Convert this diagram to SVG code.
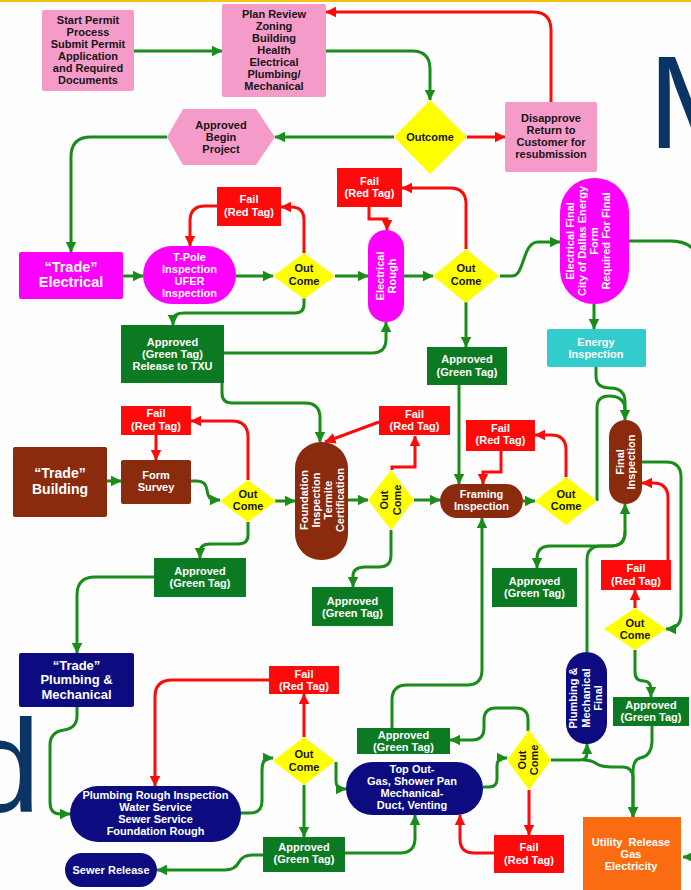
<svg xmlns="http://www.w3.org/2000/svg" width="691" height="890" viewBox="0 0 691 890">
<style>
  .t { font-family: "Liberation Sans", Arial, sans-serif; font-weight: bold; font-size: 11px; text-anchor: middle; }
  .big { font-size: 14.5px; }
  .dk { fill: #151515; }
  .wh { fill: #ffffff; }
  .pink { fill: #f59bc9; }
  .yel { fill: #ffff00; }
  .red { fill: #ff0a0a; }
  .grn { fill: #0c7a22; }
  .mag { fill: #ff00ff; }
  .brn { fill: #8a2b0e; }
  .nav { fill: #0c0c80; }
  .cyn { fill: #33cccc; }
  .org { fill: #fb6c12; }
  .cg { fill: none; stroke: #1a8c1a; stroke-width: 3; marker-end: url(#ag); }
  .cr { fill: none; stroke: #ff0a0a; stroke-width: 3; marker-end: url(#ar); }
  .cgn { fill: none; stroke: #1a8c1a; stroke-width: 3; }
  .bg { font-family: "Liberation Sans", Arial, sans-serif; font-size: 132px; fill: #0a3464; }
</style>
<defs>
  <marker id="ag" viewBox="0 0 10 10" refX="9.5" refY="5" markerWidth="11" markerHeight="11" markerUnits="userSpaceOnUse" orient="auto">
    <path d="M0,0 L10,5 L0,10 z" fill="#1a8c1a"/>
  </marker>
  <marker id="ar" viewBox="0 0 10 10" refX="9.5" refY="5" markerWidth="11" markerHeight="11" markerUnits="userSpaceOnUse" orient="auto">
    <path d="M0,0 L10,5 L0,10 z" fill="#ff0a0a"/>
  </marker>
</defs>

<rect x="0" y="0" width="691" height="890" fill="#fefefe"/>
<rect x="0" y="0" width="691" height="2" fill="#f5c20f"/>

<!-- large background lettering -->
<text class="bg" x="648" y="148">M</text>
<text class="bg" x="-33" y="812">d</text>

<!-- connectors -->
<g id="connectors">
  <path class="cg" d="M134,51 H222"/>
  <path class="cg" d="M326,51 H412 Q430,51 430,69 V100"/>
  <path class="cg" d="M394,137 H275"/>
  <path class="cr" d="M467,137 H505"/>
  <path class="cr" d="M551,102 V30 Q551,12 533,12 H326"/>
  <path class="cg" d="M167,137 H91 Q71,137 71,157 V252"/>
  <path class="cg" d="M123,276 H143"/>
  <path class="cr" d="M217,206 H205 Q190,206 190,221 V246"/>
  <path class="cg" d="M236,276 H273"/>
  <path class="cr" d="M304,253 V220 Q304,207 291,207 H281"/>
  <path class="cg" d="M304,298 V304 Q304,313 295,313 H185 Q173,313 173,320 V325"/>
  <path class="cg" d="M224,353 H372 Q386,353 386,339 V322"/>
  <path class="cg" d="M222,383 V393 Q222,403 232,403 H305 Q320,403 320,418 V442"/>
  <path class="cg" d="M335,276 H368"/>
  <path class="cr" d="M369,207 V219 H387 V230"/>
  <path class="cg" d="M404,276 H433"/>
  <path class="cr" d="M466,249 V204 Q466,188 450,188 H402"/>
  <path class="cg" d="M466,302 V347"/>
  <path class="cg" d="M500,276 H512 C525,276 522,242 538,242 H560"/>
  <path class="cg" d="M629,241 H670 Q700,241 700,270 V857 H683"/>
  <path class="cg" d="M594,304 V329"/>
  <path class="cg" d="M596,367 V376 Q596,388 610,388 Q625,388 625,402 V420"/>
  <path class="cgn" d="M597,501 V408 Q597,396 609,396 Q625,396 625,410"/>
  <path class="cg" d="M523,501 H535"/>
  <path class="cr" d="M566,477 V450 Q566,435 551,435 H535"/>
  <path class="cr" d="M501,451 V472 H483 V484"/>
  <path class="cg" d="M459,385 V484"/>
  <path class="cg" d="M642,462 H666 Q681,462 681,477 V614 Q681,629 666,629"/>
  <path class="cr" d="M668,560 V498 Q668,483 653,483 H642"/>
  <path class="cr" d="M635,608 V590"/>
  <path class="cg" d="M635,650 V672 Q635,681 644,681 Q651,681 651,690 V697"/>
  <path class="cg" d="M652,726 V740 Q652,756 640,758 Q633,760 633,772 V817"/>
  <path class="cg" d="M587,652 V560 Q587,546 601,546 H611 Q625,546 625,532 V504"/>
  <path class="cg" d="M625,532 Q625,546 611,546 H550 Q537,546 537,559 V568"/>
  <path class="cg" d="M483,787 H489 Q497,787 497,779 V766 Q497,758 505,758 H507"/>
  <path class="cg" d="M551,760 H580 Q587,760 587,753 V744"/>
  <path class="cg" d="M583,760 Q592,760 597,764 Q602,767 612,767 H622 Q633,767 633,778 V817"/>
  <path class="cr" d="M529,790 V835"/>
  <path class="cr" d="M494,853 H474 Q460,853 460,839 V815"/>
  <path class="cg" d="M528,731 V720 Q528,708 516,708 H496 Q484,708 484,720 V728 Q484,740 472,740 H450"/>
  <path class="cg" d="M392,728 V700 Q392,685 407,685 H467 Q482,685 482,670 V518"/>
  <path class="cg" d="M240,813 H250 Q262,813 262,801 V770 Q262,758 270,758 H273"/>
  <path class="cr" d="M304,737 V694"/>
  <path class="cr" d="M269,680 H172 Q155,680 155,697 V786"/>
  <path class="cg" d="M336,762 V781 Q336,789 344,789 H346"/>
  <path class="cg" d="M304,785 V837"/>
  <path class="cg" d="M345,853 H400 Q415,853 415,838 V815"/>
  <path class="cg" d="M263,855 H252 Q243,855 239,862 Q235,870 225,870 H157"/>
  <path class="cg" d="M77,707 V716 Q77,728 64,730 Q50,732 50,745 V802 Q50,814 60,814 H70"/>
  <path class="cg" d="M154,577 H95 Q77,577 77,595 V653"/>
  <path class="cg" d="M248,522 V535 Q248,544 238,544 H210 Q200,544 200,552 V558"/>
  <path class="cr" d="M248,480 V437 Q248,421 232,421 H191"/>
  <path class="cr" d="M156,435 V460"/>
  <path class="cg" d="M107,481 H121"/>
  <path class="cg" d="M190,481 H197 Q206,481 207,490 Q208,500 215,500 H220"/>
  <path class="cg" d="M275,501 H295"/>
  <path class="cg" d="M348,500 H368"/>
  <path class="cg" d="M414,500 H440"/>
  <path class="cr" d="M392,470 V467 H415 V436"/>
  <path class="cr" d="M379,422 L325,442"/>
  <path class="cg" d="M391,530 V555 Q391,567 379,567 H365 Q353,567 353,576 V587"/>
</g>

<!-- permit intake -->
<g id="start">
  <rect class="pink" x="42" y="10" width="92" height="81" rx="2"/>
  <text class="t dk"><tspan x="88" y="24">Start Permit</tspan><tspan x="88" y="36">Process</tspan><tspan x="88" y="48">Submit Permit</tspan><tspan x="88" y="60">Application</tspan><tspan x="88" y="72">and Required</tspan><tspan x="88" y="84">Documents</tspan></text>
</g>
<g id="plan-review">
  <rect class="pink" x="222" y="4" width="104" height="93" rx="2"/>
  <text class="t dk"><tspan x="274" y="18">Plan Review</tspan><tspan x="274" y="30">Zoning</tspan><tspan x="274" y="42">Building</tspan><tspan x="274" y="54">Health</tspan><tspan x="274" y="66">Electrical</tspan><tspan x="274" y="78">Plumbing/</tspan><tspan x="274" y="90">Mechanical</tspan></text>
</g>
<g id="approved-begin">
  <polygon class="pink" points="167,137 183,109 256,109 275,137 256,165 183,165"/>
  <text class="t dk"><tspan x="221" y="129">Approved</tspan><tspan x="221" y="141">Begin</tspan><tspan x="221" y="153">Project</tspan></text>
</g>
<g id="outcome">
  <polygon class="yel" points="430,100 467,137 430,174 394,137"/>
  <text class="t dk" x="430" y="141">Outcome</text>
</g>
<g id="disapprove">
  <rect class="pink" x="505" y="102" width="92" height="70" rx="2"/>
  <text class="t dk"><tspan x="551" y="122">Disapprove</tspan><tspan x="551" y="134">Return to</tspan><tspan x="551" y="146">Customer for</tspan><tspan x="551" y="158">resubmission</tspan></text>
</g>

<!-- electrical trade -->
<g id="trade-electrical">
  <rect class="mag" x="19" y="252" width="104" height="47" rx="2"/>
  <text class="t big wh"><tspan x="71" y="272">“Trade”</tspan><tspan x="71" y="287">Electrical</tspan></text>
</g>
<g id="tpole">
  <rect class="mag" x="143" y="246" width="93" height="58" rx="29"/>
  <text class="t wh"><tspan x="189.5" y="261">T-Pole</tspan><tspan x="189.5" y="273">Inspection</tspan><tspan x="189.5" y="285">UFER</tspan><tspan x="189.5" y="297">Inspection</tspan></text>
</g>
<g id="fail-tpole">
  <rect class="red" x="217" y="187" width="64" height="39"/>
  <text class="t wh"><tspan x="249" y="203">Fail</tspan><tspan x="249" y="216">(Red Tag)</tspan></text>
</g>
<g id="outcome-tpole">
  <polygon class="yel" points="304,253 335,276 304,299 273,276"/>
  <text class="t dk"><tspan x="304" y="272">Out</tspan><tspan x="304" y="285">Come</tspan></text>
</g>
<g id="approved-txu">
  <rect class="grn" x="121" y="325" width="103" height="58"/>
  <text class="t wh"><tspan x="172.5" y="346">Approved</tspan><tspan x="172.5" y="358">(Green Tag)</tspan><tspan x="172.5" y="370">Release to TXU</tspan></text>
</g>
<g id="electrical-rough">
  <rect class="mag" x="368" y="230" width="36" height="92" rx="18"/>
  <text class="t wh" transform="translate(386,276) rotate(-90)"><tspan x="0" y="-2">Electrical</tspan><tspan x="0" y="10">Rough</tspan></text>
</g>
<g id="fail-rough">
  <rect class="red" x="337" y="168" width="65" height="39"/>
  <text class="t wh"><tspan x="369.5" y="185">Fail</tspan><tspan x="369.5" y="197">(Red Tag)</tspan></text>
</g>
<g id="outcome-rough">
  <polygon class="yel" points="466,249 499,276 466,303 433,276"/>
  <text class="t dk"><tspan x="466" y="272">Out</tspan><tspan x="466" y="285">Come</tspan></text>
</g>
<g id="approved-rough">
  <rect class="grn" x="427" y="347" width="80" height="38"/>
  <text class="t wh"><tspan x="467" y="363">Approved</tspan><tspan x="467" y="376">(Green Tag)</tspan></text>
</g>
<g id="electrical-final">
  <rect class="mag" x="560" y="178" width="69" height="126" rx="34"/>
  <text class="t wh" transform="translate(594,241) rotate(-90)"><tspan x="0" y="-20">Electrical Final</tspan><tspan x="0" y="-8">City of Dallas Energy</tspan><tspan x="0" y="4">Form</tspan><tspan x="0" y="16">Required For Final</tspan></text>
</g>
<g id="energy">
  <rect class="cyn" x="547" y="329" width="99" height="38" rx="2"/>
  <text class="t wh"><tspan x="596" y="346">Energy</tspan><tspan x="596" y="358">Inspection</tspan></text>
</g>

<!-- building trade -->
<g id="trade-building">
  <rect class="brn" x="13" y="447" width="94" height="70" rx="2"/>
  <text class="t big wh" style="font-size:14px"><tspan x="60" y="478">“Trade”</tspan><tspan x="60" y="494">Building</tspan></text>
</g>
<g id="fail-survey">
  <rect class="red" x="121" y="406" width="70" height="29"/>
  <text class="t wh"><tspan x="156" y="417">Fail</tspan><tspan x="156" y="430">(Red Tag)</tspan></text>
</g>
<g id="form-survey">
  <rect class="brn" x="121" y="460" width="70" height="44" rx="2"/>
  <text class="t wh"><tspan x="156" y="479">Form</tspan><tspan x="156" y="491">Survey</tspan></text>
</g>
<g id="outcome-survey">
  <polygon class="yel" points="248,480 276,501 248,522 220,501"/>
  <text class="t dk"><tspan x="248" y="498">Out</tspan><tspan x="248" y="510">Come</tspan></text>
</g>
<g id="approved-survey">
  <rect class="grn" x="154" y="558" width="92" height="39"/>
  <text class="t wh"><tspan x="200" y="575">Approved</tspan><tspan x="200" y="587">(Green Tag)</tspan></text>
</g>
<g id="foundation">
  <rect class="brn" x="295" y="442" width="53" height="118" rx="26"/>
  <text class="t wh" transform="translate(321.5,500) rotate(-90)"><tspan x="0" y="-14">Foundation</tspan><tspan x="0" y="-2">Inspection</tspan><tspan x="0" y="10">Termite</tspan><tspan x="0" y="22">Certification</tspan></text>
</g>
<g id="fail-foundation">
  <rect class="red" x="379" y="406" width="71" height="29"/>
  <text class="t wh"><tspan x="414.5" y="418">Fail</tspan><tspan x="414.5" y="430">(Red Tag)</tspan></text>
</g>
<g id="outcome-foundation">
  <polygon class="yel" points="391,470 414,500 391,530 368,500"/>
  <text class="t dk" transform="translate(391,500) rotate(-90)"><tspan x="0" y="-3">Out</tspan><tspan x="0" y="10">Come</tspan></text>
</g>
<g id="approved-foundation">
  <rect class="grn" x="312" y="587" width="81" height="39"/>
  <text class="t wh"><tspan x="352.5" y="605">Approved</tspan><tspan x="352.5" y="617">(Green Tag)</tspan></text>
</g>
<g id="framing">
  <rect class="brn" x="440" y="484" width="83" height="34" rx="17"/>
  <text class="t wh"><tspan x="481.5" y="498">Framing</tspan><tspan x="481.5" y="510">Inspection</tspan></text>
</g>
<g id="fail-framing">
  <rect class="red" x="466" y="420" width="69" height="31"/>
  <text class="t wh"><tspan x="500.5" y="432">Fail</tspan><tspan x="500.5" y="444">(Red Tag)</tspan></text>
</g>
<g id="outcome-framing">
  <polygon class="yel" points="566,477 597,501 566,525 535,501"/>
  <text class="t dk"><tspan x="566" y="498">Out</tspan><tspan x="566" y="510">Come</tspan></text>
</g>
<g id="final-inspection">
  <rect class="brn" x="609" y="420" width="33" height="84" rx="16.5"/>
  <text class="t wh" transform="translate(625.5,462) rotate(-90)"><tspan x="0" y="-2">Final</tspan><tspan x="0" y="9">Inspection</tspan></text>
</g>
<g id="approved-final">
  <rect class="grn" x="492" y="568" width="85" height="39"/>
  <text class="t wh"><tspan x="534.5" y="585">Approved</tspan><tspan x="534.5" y="597">(Green Tag)</tspan></text>
</g>
<g id="fail-final">
  <rect class="red" x="601" y="560" width="70" height="30"/>
  <text class="t wh"><tspan x="636" y="572">Fail</tspan><tspan x="636" y="585">(Red Tag)</tspan></text>
</g>
<g id="outcome-final">
  <polygon class="yel" points="635,608 666,629 635,650 604,629"/>
  <text class="t dk"><tspan x="635" y="627">Out</tspan><tspan x="635" y="639">Come</tspan></text>
</g>
<g id="approved-utility">
  <rect class="grn" x="613" y="697" width="76" height="29"/>
  <text class="t wh"><tspan x="651" y="709">Approved</tspan><tspan x="651" y="721">(Green Tag)</tspan></text>
</g>
<g id="utility-release">
  <rect class="org" x="583" y="817" width="98" height="80"/>
  <text class="t wh" xml:space="preserve"><tspan x="631" y="846">Utility  Release</tspan><tspan x="631" y="858">Gas</tspan><tspan x="631" y="870">Electricity</tspan></text>
</g>

<!-- plumbing and mechanical trade -->
<g id="trade-plumbing">
  <rect class="nav" x="19" y="653" width="115" height="54" rx="2"/>
  <text class="t wh" style="font-size:13px"><tspan x="76.5" y="669.5">“Trade”</tspan><tspan x="76.5" y="684">Plumbing &amp;</tspan><tspan x="76.5" y="698.5">Mechanical</tspan></text>
</g>
<g id="fail-plumbing">
  <rect class="red" x="269" y="666" width="70" height="28"/>
  <text class="t wh"><tspan x="304" y="678">Fail</tspan><tspan x="304" y="690">(Red Tag)</tspan></text>
</g>
<g id="outcome-plumbing">
  <polygon class="yel" points="304,737 335,761 304,785 273,761"/>
  <text class="t dk"><tspan x="304" y="758">Out</tspan><tspan x="304" y="771">Come</tspan></text>
</g>
<g id="plumbing-rough">
  <rect class="nav" x="70" y="786" width="171" height="56" rx="28"/>
  <text class="t wh"><tspan x="155.5" y="799">Plumbing Rough Inspection</tspan><tspan x="155.5" y="811">Water Service</tspan><tspan x="155.5" y="823">Sewer Service</tspan><tspan x="155.5" y="835">Foundation Rough</tspan></text>
</g>
<g id="sewer-release">
  <rect class="nav" x="65" y="853" width="92" height="34" rx="17"/>
  <text class="t wh" x="111" y="874">Sewer Release</text>
</g>
<g id="approved-plumbing">
  <rect class="grn" x="263" y="837" width="82" height="35"/>
  <text class="t wh"><tspan x="304" y="851">Approved</tspan><tspan x="304" y="863">(Green Tag)</tspan></text>
</g>
<g id="top-out">
  <rect class="nav" x="346" y="762" width="137" height="53" rx="26.5"/>
  <text class="t wh"><tspan x="412" y="773">Top Out-</tspan><tspan x="412" y="785">Gas, Shower Pan</tspan><tspan x="412" y="797">Mechanical-</tspan><tspan x="412" y="809">Duct, Venting</tspan></text>
</g>
<g id="approved-topout">
  <rect class="grn" x="357" y="728" width="93" height="26"/>
  <text class="t wh"><tspan x="403.5" y="739">Approved</tspan><tspan x="403.5" y="751">(Green Tag)</tspan></text>
</g>
<g id="outcome-topout">
  <polygon class="yel" points="529,730 551,760 529,790 507,760"/>
  <text class="t dk" transform="translate(529,760) rotate(-90)"><tspan x="0" y="-3">Out</tspan><tspan x="0" y="9">Come</tspan></text>
</g>
<g id="fail-topout">
  <rect class="red" x="494" y="835" width="70" height="38"/>
  <text class="t wh"><tspan x="529" y="851">Fail</tspan><tspan x="529" y="864">(Red Tag)</tspan></text>
</g>
<g id="plumbing-final">
  <rect class="nav" x="566" y="652" width="41" height="92" rx="20.5"/>
  <text class="t wh" transform="translate(586.5,698) rotate(-90)"><tspan x="0" y="-9.5">Plumbing &amp;</tspan><tspan x="0" y="3">Mechanical</tspan><tspan x="0" y="15.5">Final</tspan></text>
</g>
</svg>
